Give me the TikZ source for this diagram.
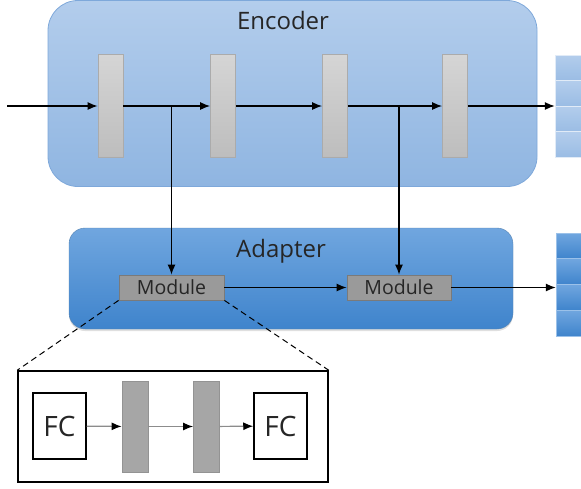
\documentclass[tikz,border=0pt]{standalone}
\usepackage{fontspec}
\setmainfont{Open Sans}
\usetikzlibrary{arrows.meta}
\usetikzlibrary{calc}
\usetikzlibrary{shadows}

\definecolor{encTop}{HTML}{B3CDEC}
\definecolor{encBot}{HTML}{8FB5E1}
\definecolor{encLine}{HTML}{7EA8DA}
\definecolor{adTop}{HTML}{70A6DF}
\definecolor{adBot}{HTML}{3F84CC}
\definecolor{barTop}{HTML}{D5D5D5}
\definecolor{barBot}{HTML}{BDBDBD}
\definecolor{barLine}{HTML}{ABABAB}
\definecolor{modFill}{HTML}{9A9A9A}
\definecolor{modLine}{HTML}{7A7A7A}
\definecolor{txt}{HTML}{262626}

\begin{document}
\begin{tikzpicture}[x=1pt,y=-1pt,>/.tip={Latex[length=10pt,width=8pt]},
	encbox/.style={draw=encLine,line width=0.8pt,rounded corners=30pt,top color=encTop,bottom color=encBot},
	adbox/.style={draw=adTop!80!black,line width=0.4pt,rounded corners=16pt,top color=adTop,bottom color=adBot,
		drop shadow={shadow xshift=0pt,shadow yshift=-2pt,opacity=0.25}},
	encbar/.style={draw=barLine,line width=0.8pt,top color=barTop,bottom color=barBot,minimum width=25pt,minimum height=103pt,inner sep=0pt},
	modbox/.style={draw=modLine,line width=0.8pt,fill=modFill,minimum height=25pt,inner sep=0pt,text=txt,font=\fontsize{19.5}{20}\selectfont},
	topcell/.style={draw=white!60!encTop,line width=0.8pt,top color=encTop,bottom color=encBot!90!white,minimum width=40pt,minimum height=25.5pt,inner sep=0pt},
	lowcell/.style={draw=adTop!70!white,line width=0.8pt,top color=adTop,bottom color=adBot,minimum width=40pt,minimum height=25.75pt,inner sep=0pt},
	fcbox/.style={draw=black,line width=1.5pt,fill=white,minimum width=53pt,minimum height=66pt,inner sep=0pt,font=\fontsize{28}{30}\selectfont,text=txt},
	graybar/.style={draw=gray!85,line width=0.8pt,fill=gray!70,minimum width=26pt,minimum height=91pt,inner sep=0pt},
	label/.style={text=txt,font=\fontsize{24}{28}\selectfont},
	arr/.style={->,line width=1.2pt},
	garr/.style={-{Latex[length=10pt,width=8pt,color=black]},draw=gray!90,line width=1.2pt}]
	\useasboundingbox (0,0) rectangle (581,488);

	% encoder
	\draw (292.5,93.5) node (enc) [encbox,minimum width=489pt,minimum height=186pt] {};
	\draw (283,20) node (enclabel) [label] {Encoder};
	\foreach \x/\n in {110.5/1,223/2,335/3,455/4}
		\draw (\x,106) node (e\n) [encbar] {};
	\draw (575,106) node (tstack) [minimum width=40pt,minimum height=102pt] {};
	\foreach \i in {0,...,3}
		\draw (575,67.75+25.5*\i) node (t\i) [topcell] {};

	% adapter
	\draw (291,278.5) node (ad) [adbox,minimum width=444pt,minimum height=101pt] {};
	\draw (281,251) node (adlabel) [label] {Adapter};
	\draw (171.5,287.5) node (m1) [modbox,minimum width=105pt] {Module};
	\draw (399,287.5) node (m2) [modbox,minimum width=104pt] {Module};
	\draw (576,284.5) node (astack) [minimum width=40pt,minimum height=103pt] {};
	\foreach \i in {0,...,3}
		\draw (576,245.9+25.75*\i) node (a\i) [lowcell] {};

	% main flow
	\coordinate (in) at (7,106);
	\coordinate (j1) at (m1 |- e1);
	\coordinate (j2) at (m2 |- e1);
	\draw[arr] (in) -- (e1);
	\draw[arr] (e1) -- (e2);
	\draw[arr] (e2) -- (e3);
	\draw[arr] (e3) -- (e4);
	\draw[arr] (e4) -- (tstack);
	\draw[arr] (j1) -- (m1);
	\draw[arr] (j2) -- (m2);
	\draw[arr] (m1) -- (m2);
	\draw[arr] (m2) -- (m2 -| astack.west);

	% zoomed module
	\draw (173,426.5) node (inner) [draw,line width=1.5pt,minimum width=310pt,minimum height=111pt] {};
	\draw[dashed,line width=1pt,dash pattern=on 6pt off 4pt] (m1.south west) -- (inner.north west);
	\draw[dashed,line width=1pt,dash pattern=on 6pt off 4pt] (m1.south east) -- (inner.north east);
	\draw (59.5,426) node (fc1) [fcbox] {FC};
	\draw (135,426.5) node (g1) [graybar] {};
	\draw (206.5,426.5) node (g2) [graybar] {};
	\draw (280.5,426) node (fc2) [fcbox] {FC};
	\draw[garr] (fc1) -- (g1);
	\draw[garr] (g1) -- (g2);
	\draw[garr] (g2) -- (fc2);
\end{tikzpicture}
\end{document}
